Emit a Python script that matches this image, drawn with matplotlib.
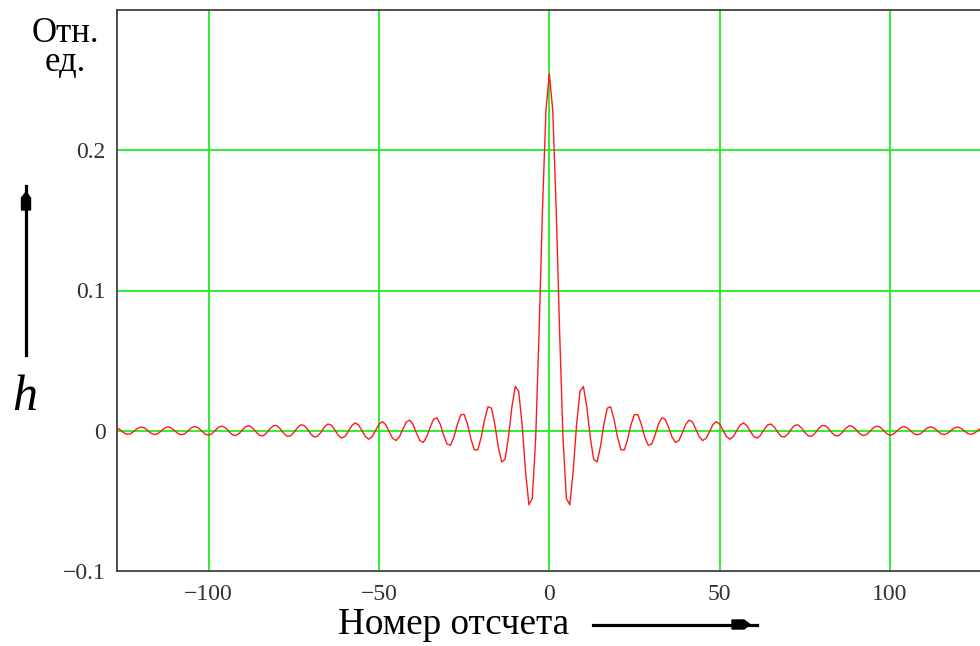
import matplotlib.pyplot as plt
import numpy as np
from matplotlib.patches import Polygon

W, H = 980, 646

# impulse response samples, n = -127 ... 127
n_samples = np.arange(-127, 128)
h_values = [
    0.0022, 0.0007, -0.0013, -0.0025, -0.0022, -0.0005, 0.0015, 0.0026,
    0.0022, 0.0004, -0.0016, -0.0027, -0.0022, -0.0003, 0.0018, 0.0028,
    0.0021, 0.0001, -0.0020, -0.0029, -0.0021, 0.0001, 0.0022, 0.0031,
    0.0020, -0.0003, -0.0024, -0.0032, -0.0020, 0.0005, 0.0027, 0.0033,
    0.0019, -0.0007, -0.0029, -0.0034, -0.0018, 0.0009, 0.0031, 0.0035,
    0.0017, -0.0011, -0.0034, -0.0036, -0.0016, 0.0014, 0.0036, 0.0037,
    0.0014, -0.0017, -0.0039, -0.0037, -0.0013, 0.0020, 0.0042, 0.0038,
    0.0011, -0.0024, -0.0045, -0.0039, -0.0009, 0.0028, 0.0048, 0.0040,
    0.0007, -0.0032, -0.0052, -0.0041, -0.0004, 0.0036, 0.0056, 0.0041,
    0.0001, -0.0042, -0.0060, -0.0042, 0.0003, 0.0047, 0.0065, 0.0043,
    -0.0007, -0.0054, -0.0070, -0.0043, 0.0012, 0.0062, 0.0076, 0.0044,
    -0.0017, -0.0071, -0.0083, -0.0044, 0.0025, 0.0082, 0.0092, 0.0045,
    -0.0034, -0.0096, -0.0103, -0.0045, 0.0045, 0.0114, 0.0116, 0.0046,
    -0.0060, -0.0137, -0.0135, -0.0046, 0.0081, 0.0171, 0.0161, 0.0046,
    -0.0114, -0.0223, -0.0203, -0.0046, 0.0169, 0.0315, 0.0281, 0.0046,
    -0.0287, -0.0528, -0.0482, -0.0046, 0.0717, 0.1591, 0.2283,
    0.2546,
    0.2283, 0.1591, 0.0717, -0.0046, -0.0482, -0.0528, -0.0287,
    0.0046, 0.0281, 0.0315, 0.0169, -0.0046, -0.0203, -0.0223, -0.0114,
    0.0046, 0.0161, 0.0171, 0.0081, -0.0046, -0.0135, -0.0137, -0.0060,
    0.0046, 0.0116, 0.0114, 0.0045, -0.0045, -0.0103, -0.0096, -0.0034,
    0.0045, 0.0092, 0.0082, 0.0025, -0.0044, -0.0083, -0.0071, -0.0017,
    0.0044, 0.0076, 0.0062, 0.0012, -0.0043, -0.0070, -0.0054, -0.0007,
    0.0043, 0.0065, 0.0047, 0.0003, -0.0042, -0.0060, -0.0042, 0.0001,
    0.0041, 0.0056, 0.0036, -0.0004, -0.0041, -0.0052, -0.0032, 0.0007,
    0.0040, 0.0048, 0.0028, -0.0009, -0.0039, -0.0045, -0.0024, 0.0011,
    0.0038, 0.0042, 0.0020, -0.0013, -0.0037, -0.0039, -0.0017, 0.0014,
    0.0037, 0.0036, 0.0014, -0.0016, -0.0036, -0.0034, -0.0011, 0.0017,
    0.0035, 0.0031, 0.0009, -0.0018, -0.0034, -0.0029, -0.0007, 0.0019,
    0.0033, 0.0027, 0.0005, -0.0020, -0.0032, -0.0024, -0.0003, 0.0020,
    0.0031, 0.0022, 0.0001, -0.0021, -0.0029, -0.0020, 0.0001, 0.0021,
    0.0028, 0.0018, -0.0003, -0.0022, -0.0027, -0.0016, 0.0004, 0.0022,
    0.0026, 0.0015, -0.0005, -0.0022, -0.0025, -0.0013, 0.0007, 0.0022,
]

x_ticks = [-100, -50, 0, 50, 100]
y_ticks = [-0.1, 0, 0.1, 0.2]
y_tick_labels = ["\u22120.1", "0", "0.1", "0.2"]
x_tick_labels = ["\u2212100", "\u221250", "0", "50", "100"]


def px(x, y):
    """Pixel position (from top-left) -> figure fraction."""
    return x / W, 1 - y / H


plt.rcParams["font.family"] = ["Liberation Serif", "DejaVu Serif"]

fig = plt.figure(figsize=(W / 100, H / 100), dpi=100)
ax = fig.add_axes([116.7 / W, 75 / H, 865.3 / W, 561 / H])

ax.plot(n_samples, h_values, color="#ff1a1a", linewidth=1.0, zorder=3)

ax.set_xlim(-127, 127)
ax.set_ylim(-0.1, 0.3)
ax.set_xticks(x_ticks)
ax.set_xticklabels(x_tick_labels)
ax.set_yticks(y_ticks)
ax.set_yticklabels(y_tick_labels)
ax.tick_params(length=0, labelsize=17, labelcolor="#30303c")
ax.tick_params(axis="x", pad=9)
ax.tick_params(axis="y", pad=8)

# green grid, no line on the bottom spine
for xv in x_ticks:
    ax.axvline(xv, color="#1fef1f", linewidth=1.3, zorder=1)
for yv in y_ticks[1:]:
    ax.axhline(yv, color="#1fef1f", linewidth=1.3, zorder=1)

for side in ("left", "bottom", "top"):
    ax.spines[side].set_color("#404040")
    ax.spines[side].set_linewidth(1.3)
ax.spines["right"].set_visible(False)

# axis captions
fig.text(*px(65, 48), "Отн.\nед.", ha="center", va="center",
         fontsize=25, linespacing=0.83, color="black")
fig.text(*px(25, 410), "h", ha="center", va="baseline",
         fontsize=36, style="italic", color="black")
fig.text(*px(338, 634), "Номер отсчета", ha="left", va="baseline",
         fontsize=26.7, color="black")

# arrows next to the captions
fig.add_artist(plt.Line2D(*zip(px(26, 355), px(26, 186)), color="black",
                          linewidth=2.3, transform=fig.transFigure))
fig.add_artist(Polygon([px(21.5, 210), px(30.5, 210), px(30.5, 198),
                        px(26, 192), px(21.5, 198)], closed=True,
                       facecolor="black", edgecolor="black",
                       transform=fig.transFigure))
fig.add_artist(plt.Line2D(*zip(px(593, 624.5), px(757, 624.5)), color="black",
                          linewidth=2.3, transform=fig.transFigure))
fig.add_artist(Polygon([px(732, 620), px(732, 629), px(744, 629),
                        px(750, 624.5), px(744, 620)], closed=True,
                       facecolor="black", edgecolor="black",
                       transform=fig.transFigure))

fig.savefig("out.png", dpi=100)
